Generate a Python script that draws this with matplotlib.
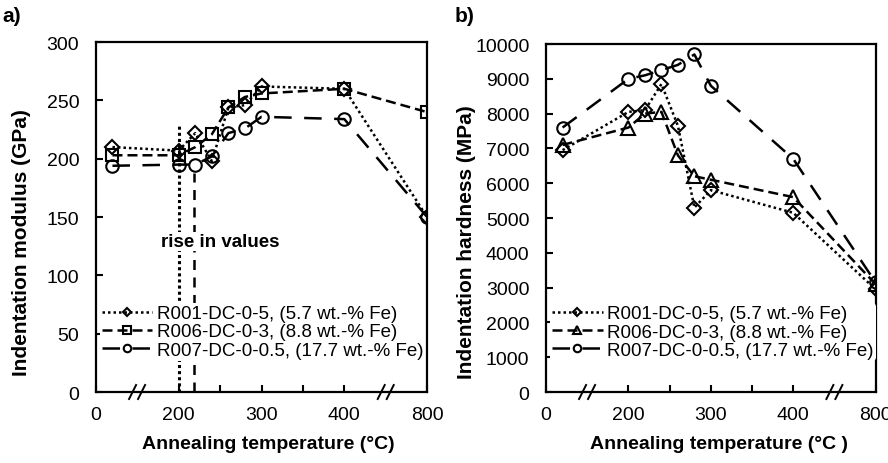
import numpy as np
import matplotlib
matplotlib.use("Agg")
import matplotlib.pyplot as plt
import matplotlib.transforms as mtransforms

plt.rcParams['font.family'] = ['Liberation Sans', 'DejaVu Sans']

# ---------------- data ----------------
temps = [25, 200, 220, 240, 260, 280, 300, 400, 800]

labels = ["R001-DC-0-5, (5.7 wt.-% Fe)",
          "R006-DC-0-3, (8.8 wt.-% Fe)",
          "R007-DC-0-0.5, (17.7 wt.-% Fe)"]

modulus_r001 = [210, 207, 222, 198, 244, 246, 262, 260, 150]
modulus_r006 = [203, 203, 210, 221, 244, 253, 256, 260, 240]
modulus_r007 = [194, 195, 195, 202, 222, 226, 236, 234, 150]

hardness_r001 = [6950, 8050, 8100, 8850, 7650, 5300, 5800, 5150, 2950]
hardness_r006 = [7100, 7600, 8000, 8050, 6800, 6200, 6100, 5600, 3100]
hardness_r007 = [7600, 9000, 9100, 9250, 9400, 9700, 8800, 6700, 3150]

xticks = [0, 200, 300, 400, 800]
xminor = [250, 350]

# piecewise axis (broken axis) definition
T_BRK = [0, 25, 200, 400, 800]
P_BRK = [0, 0.2, 1, 3, 4]


def fwd(t):
    return np.interp(t, T_BRK, P_BRK)


def inv(p):
    return np.interp(p, P_BRK, T_BRK)


fig = plt.figure(figsize=(8.88, 4.64), dpi=100)
axa = fig.add_axes([0.108, 0.153, 0.373, 0.754])
axb = fig.add_axes([0.615, 0.153, 0.371, 0.750])

styles_a = [dict(ls=(0, (1, 1.2)), marker='D', ms=7),
            dict(ls=(0, (4, 2)), marker='s', ms=9),
            dict(ls=(0, (7, 5)), marker='o', ms=9)]
styles_b = [dict(ls=(0, (1, 1.2)), marker='D', ms=7),
            dict(ls=(0, (4, 2)), marker='^', ms=9.5),
            dict(ls=(0, (7, 5)), marker='o', ms=9)]


def setup(ax, ylim, ystep):
    ax.set_xscale('function', functions=(fwd, inv))
    ax.set_xlim(0, 800)
    ax.set_ylim(*ylim)
    ax.set_xticks(xticks)
    ax.set_xticklabels([str(t) for t in xticks])
    ax.set_xticks(xminor, minor=True)
    ax.set_yticks(np.arange(ylim[0], ylim[1] + 1, ystep))
    ax.tick_params(axis='both', which='both', direction='in', length=5,
                   width=1.5, labelsize=14)
    ax.tick_params(axis='x', which='major', pad=10)
    ax.tick_params(axis='y', which='major', pad=12)
    for sp in ax.spines.values():
        sp.set_linewidth(1.6)
    # axis-break marks
    for xb in (90, 600):
        for off in (-0.045, 0.045):
            tr = fig.dpi_scale_trans + mtransforms.ScaledTranslation(
                xb, 0, ax.get_xaxis_transform())
            ax.plot([off - 0.035, off + 0.035], [-0.07, 0.07], color='black',
                    lw=1.4, transform=tr, clip_on=False, zorder=6)


setup(axa, (0, 300), 50)
setup(axb, (0, 10000), 1000)

for vals, st, lab in zip([modulus_r001, modulus_r006, modulus_r007], styles_a, labels):
    axa.plot(temps, vals, color='black', lw=1.8, ls=st['ls'], marker=st['marker'],
             ms=st['ms'], mfc='none', mec='black', mew=1.5, label=lab, zorder=4)

for vals, st, lab in zip([hardness_r001, hardness_r006, hardness_r007], styles_b, labels):
    axb.plot(temps, vals, color='black', lw=1.8, ls=st['ls'], marker=st['marker'],
             ms=st['ms'], mfc='none', mec='black', mew=1.5, label=lab, zorder=4)

# "rise in values" annotation lines
axa.plot([200, 200], [0, 230], color='black', lw=2.2, ls=(0, (1, 1)), zorder=2)
axa.plot([218, 218], [0, 188], color='black', lw=1.8, ls=(0, (4, 3)), zorder=2)
axa.text(250, 129, "rise in values", fontsize=13.5, fontweight='bold',
         ha='center', va='center', zorder=5,
         bbox=dict(facecolor='white', edgecolor='none', pad=1))

for ax in (axa, axb):
    leg = ax.legend(loc='lower left', bbox_to_anchor=(0.012, 0.09), fontsize=13.5,
                    frameon=True, framealpha=1, edgecolor='none', facecolor='white',
                    handlelength=2.7, handletextpad=0.25, labelspacing=0.06,
                    borderpad=0.1, borderaxespad=0, markerscale=0.6)
    leg.set_zorder(5)

axa.set_ylabel("Indentation modulus (GPa)", fontsize=15, fontweight='bold')
axb.set_ylabel("Indentation hardness (MPa)", fontsize=15, fontweight='bold')
axa.yaxis.set_label_coords(-0.197, 0.431)
axb.yaxis.set_label_coords(-0.212, 0.434)
axa.set_xlabel("Annealing temperature (°C)", fontsize=14, fontweight='bold')
axb.set_xlabel("Annealing temperature (°C )", fontsize=14, fontweight='bold')
axa.xaxis.set_label_coords(0.521, -0.122)
axb.xaxis.set_label_coords(0.524, -0.123)

fig.text(0.003, 0.965, "a)", fontsize=15, fontweight='bold', va='center')
fig.text(0.512, 0.965, "b)", fontsize=15, fontweight='bold', va='center')

fig.savefig("out.png", dpi=100)
